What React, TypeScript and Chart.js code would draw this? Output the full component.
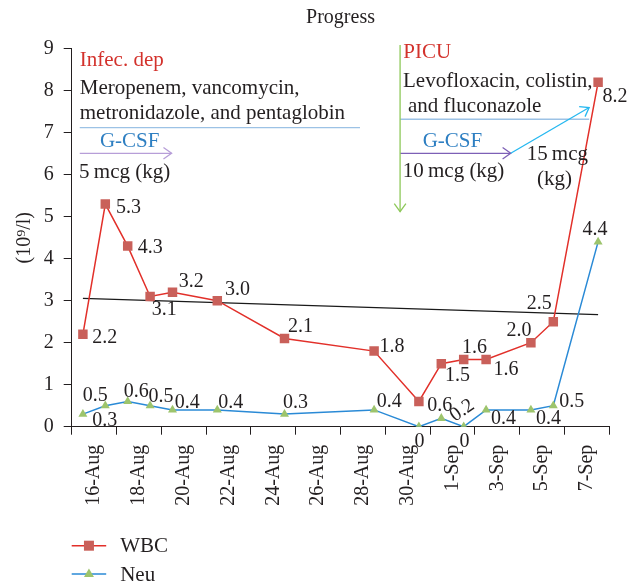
import React, { useEffect, useRef } from 'react';
import { Chart, registerables } from 'chart.js';

Chart.register(...registerables);

// ---------------- data ----------------
const chartTitle = 'Progress';
const yAxisTitle = '(10\u2079/l)';
const seriesLabels = ['WBC', 'Neu'];
const sampleDates = ['16-Aug', '17-Aug', '18-Aug', '19-Aug', '20-Aug', '22-Aug', '25-Aug', '29-Aug', '31-Aug', '1-Sep', '2-Sep', '3-Sep', '5-Sep', '6-Sep', '8-Sep'];
const wbcValues = [2.2, 5.3, 4.3, 3.1, 3.2, 3.0, 2.1, 1.8, 0.6, 1.5, 1.6, 1.6, 2.0, 2.5, 8.2];
const neuValues = [0.3, 0.5, 0.6, 0.5, 0.4, 0.4, 0.3, 0.4, 0, 0.2, 0, 0.4, 0.4, 0.5, 4.4];
const axisDateLabels = ['16-Aug', '18-Aug', '20-Aug', '22-Aug', '24-Aug', '26-Aug', '28-Aug', '30-Aug', '1-Sep', '3-Sep', '5-Sep', '7-Sep'];
const yMin = 0;
const yMax = 9;
const yStep = 1;

// ---------------- styling / layout ----------------
const FONT = "'Liberation Serif', 'Times New Roman', serif";
const INK = '#231f20';
const WBC_LINE = '#e2302a';
const WBC_MARK = '#c9605a';
const NEU_LINE = '#2a8ad6';
const NEU_MARK = '#9dc46c';
const RED_TXT = '#d3322c';
const BLUE_TXT = '#2e7fc2';

// label offsets in px relative to each point: [dx, dy, rotationDeg]
const wbcLabelOffsets: number[][] = [[9.4, 8.4], [10.7, 8.4], [10, 7], [1.7, 18.7], [6.3, -5], [7.7, -5.3], [3.4, -7], [5.3, 0.7], [8.4, 9.3], [3.7, 17], [-1.6, -6.7], [7.3, 15], [-24.3, -6.6], [-26.6, -12.4], [4.4, 20]];
const neuLabelOffsets: number[][] = [[9.4, 12], [-22.6, -4.3], [-4, -5], [-1.7, -3.3], [2.3, -2.3], [1, -2.3], [-1.6, -6.3], [2.7, -3.3], [-4.3, 20], [13.7, 3.7, -35], [-4.3, 20], [5, 14.3], [5, 14.3], [6, 1.7], [-15.6, -6.7]];

// annotation positions in data coordinates (day offset, value)
const annoTexts = [
  { t: 'Infec. dep', x: -0.14, y: 8.59, c: RED_TXT },
  { t: 'Meropenem, vancomycin,', x: -0.14, y: 7.91, c: INK },
  { t: 'metronidazole, and pentaglobin', x: -0.14, y: 7.32, c: INK },
  { t: 'G-CSF', x: 0.76, y: 6.65, c: BLUE_TXT },
  { t: '5\u2009mcg (kg)', x: -0.17, y: 5.93, c: INK },
  { t: 'PICU', x: 14.3, y: 8.77, c: RED_TXT },
  { t: 'Levofloxacin, colistin,', x: 14.29, y: 8.08, c: INK },
  { t: 'and fluconazole', x: 14.51, y: 7.49, c: INK },
  { t: 'G-CSF', x: 15.17, y: 6.65, c: BLUE_TXT },
  { t: '10\u2009mcg (kg)', x: 14.28, y: 5.95, c: INK },
  { t: '15\u2009mcg', x: 19.81, y: 6.35, c: INK },
  { t: '(kg)', x: 20.27, y: 5.75, c: INK },
];
const annoLines = [
  { a: [-0.14, 7.12], b: [12.37, 7.12], c: '#9cc2e5', arrow: false },
  { a: [14.16, 7.32], b: [22.6, 7.32], c: '#9cc2e5', arrow: false },
  { a: [-0.14, 6.51], b: [3.96, 6.51], c: '#b79ed8', arrow: true },
  { a: [14.16, 6.51], b: [19.1, 6.51], c: '#7d60b6', arrow: true },
  { a: [19.1, 6.51], b: [22.6, 7.6], c: '#25b8f0', arrow: true },
  { a: [14.16, 9.09], b: [14.16, 5.12], c: '#8ec85a', arrow: true },
];

const MONTHS: Record<string, number> = { Aug: 7, Sep: 8 };
const toUTC = (s: string) => {
  const [d, m] = s.split('-');
  return Date.UTC(2000, MONTHS[m], Number(d));
};
const origin = toUTC(sampleDates[0]);
const dayIndex = (s: string) => Math.round((toUTC(s) - origin) / 864e5);

const sampleDays = sampleDates.map(dayIndex);
const lastDay = sampleDays[sampleDays.length - 1];
const xMin = -0.5;
const xMax = lastDay + 0.5;
const labelPositions = axisDateLabels.map((l) => dayIndex(l) + 0.5);
const boundaryTicks = [...axisDateLabels.map((l) => dayIndex(l) - 0.5), xMax];

// linear trendline (least squares) of WBC over time
const n = sampleDays.length;
const mx = sampleDays.reduce((s, v) => s + v, 0) / n;
const my = wbcValues.reduce((s, v) => s + v, 0) / n;
let sxy = 0;
let sxx = 0;
for (let i = 0; i < n; i++) {
  sxy += (sampleDays[i] - mx) * (wbcValues[i] - my);
  sxx += (sampleDays[i] - mx) ** 2;
}
const slope = sxy / sxx;
const intercept = my - slope * mx;
const trendPoints = [sampleDays[0], lastDay].map((d) => ({ x: d, y: intercept + slope * d }));

const fmt = (v: number) => (v === 0 ? '0' : v.toFixed(1));

function drawArrowHead(ctx: CanvasRenderingContext2D, x1: number, y1: number, x2: number, y2: number) {
  const ang = Math.atan2(y2 - y1, x2 - x1);
  const len = 10;
  const spread = 0.62;
  ctx.beginPath();
  ctx.moveTo(x2 - len * Math.cos(ang - spread), y2 - len * Math.sin(ang - spread));
  ctx.lineTo(x2, y2);
  ctx.lineTo(x2 - len * Math.cos(ang + spread), y2 - len * Math.sin(ang + spread));
  ctx.stroke();
}

const overlayPlugin = {
  id: 'overlay',
  afterDatasetsDraw(chart: any) {
    const { ctx } = chart;
    const xs = chart.scales.x;
    const ys = chart.scales.y;
    const px = (v: number) => xs.getPixelForValue(v);
    const py = (v: number) => ys.getPixelForValue(v);
    ctx.save();

    // annotation lines & arrows
    ctx.lineWidth = 1.3;
    for (const l of annoLines) {
      const x1 = px(l.a[0]);
      const y1 = py(l.a[1]);
      const x2 = px(l.b[0]);
      const y2 = py(l.b[1]);
      ctx.strokeStyle = l.c;
      ctx.beginPath();
      ctx.moveTo(x1, y1);
      ctx.lineTo(x2, y2);
      ctx.stroke();
      if (l.arrow) drawArrowHead(ctx, x1, y1, x2, y2);
    }

    // annotation texts
    ctx.font = `21px ${FONT}`;
    ctx.textAlign = 'left';
    ctx.textBaseline = 'alphabetic';
    for (const t of annoTexts) {
      ctx.fillStyle = t.c;
      ctx.fillText(t.t, px(t.x), py(t.y));
    }

    // data labels
    ctx.font = `20px ${FONT}`;
    ctx.fillStyle = INK;
    const offsets = [wbcLabelOffsets, neuLabelOffsets];
    [0, 1].forEach((di) => {
      const meta = chart.getDatasetMeta(di);
      const vals = chart.data.datasets[di].data;
      meta.data.forEach((pt: any, i: number) => {
        const o = offsets[di][i] || [6, -6];
        const v = vals[i].y;
        ctx.save();
        ctx.translate(pt.x + o[0], pt.y + o[1]);
        if (o[2]) ctx.rotate((o[2] * Math.PI) / 180);
        ctx.fillText(fmt(v), 0, 0);
        ctx.restore();
      });
    });

    // legend
    const lx1 = chart.chartArea.left;
    const lx2 = lx1 + 34.5;
    const legendRows = [
      { y: 545.7, line: WBC_LINE, mark: WBC_MARK, style: 'rect' },
      { y: 574, line: NEU_LINE, mark: NEU_MARK, style: 'triangle' },
    ];
    legendRows.forEach((r, i) => {
      ctx.strokeStyle = r.line;
      ctx.lineWidth = 1.5;
      ctx.beginPath();
      ctx.moveTo(lx1, r.y);
      ctx.lineTo(lx2, r.y);
      ctx.stroke();
      const cx = (lx1 + lx2) / 2;
      ctx.fillStyle = r.mark;
      ctx.beginPath();
      if (r.style === 'rect') {
        ctx.rect(cx - 5, r.y - 5, 10, 10);
      } else {
        ctx.moveTo(cx, r.y - 5.5);
        ctx.lineTo(cx + 5, r.y + 3);
        ctx.lineTo(cx - 5, r.y + 3);
        ctx.closePath();
      }
      ctx.fill();
      ctx.fillStyle = INK;
      ctx.font = `21px ${FONT}`;
      ctx.fillText(seriesLabels[i], lx1 + 48.5, r.y + 6.5);
    });

    ctx.restore();
  },
};

export default function App() {
  const canvasRef = useRef<HTMLCanvasElement | null>(null);

  useEffect(() => {
    document.body.style.margin = '0';
    const canvas = canvasRef.current;
    if (!canvas) return;
    const chart = new Chart(canvas, {
      type: 'line',
      data: {
        datasets: [
          {
            label: seriesLabels[0],
            data: sampleDays.map((d, i) => ({ x: d, y: wbcValues[i] })),
            borderColor: WBC_LINE,
            borderWidth: 1.5,
            pointStyle: 'rect',
            pointRadius: 6.7,
            pointBackgroundColor: WBC_MARK,
            pointBorderWidth: 0,
            tension: 0,
          },
          {
            label: seriesLabels[1],
            data: sampleDays.map((d, i) => ({ x: d, y: neuValues[i] })),
            borderColor: NEU_LINE,
            borderWidth: 1.5,
            pointStyle: 'triangle',
            pointRadius: 5.2,
            pointBackgroundColor: NEU_MARK,
            pointBorderWidth: 0,
            tension: 0,
          },
          {
            label: 'Trend',
            data: trendPoints,
            borderColor: '#1a1a1a',
            borderWidth: 1.2,
            pointRadius: 0,
            tension: 0,
          },
        ],
      },
      options: {
        responsive: true,
        maintainAspectRatio: false,
        devicePixelRatio: 1,
        animation: false,
        events: [],
        layout: { padding: { left: 0, right: 30.7, top: 0, bottom: 0 } },
        plugins: {
          legend: { display: false },
          tooltip: { enabled: false },
          title: {
            display: true,
            text: chartTitle,
            fullSize: false,
            color: INK,
            font: { family: FONT, size: 20, weight: 'normal' },
            padding: { top: 6, bottom: 18.7 },
          },
        },
        scales: {
          x: {
            type: 'linear',
            min: xMin,
            max: xMax,
            afterBuildTicks: (scale: any) => {
              const all = [...boundaryTicks, ...labelPositions].sort((a, b) => a - b);
              scale.ticks = all.map((v) => ({ value: v }));
            },
            afterFit: (scale: any) => {
              scale.height = 154.3;
              scale.paddingLeft = 0;
              scale.paddingRight = 0;
            },
            ticks: {
              autoSkip: false,
              minRotation: 90,
              maxRotation: 90,
              padding: 10,
              color: INK,
              font: { family: FONT, size: 20 },
              callback: (v: any) => {
                const k = labelPositions.findIndex((p) => Math.abs(p - Number(v)) < 1e-6);
                return k >= 0 ? axisDateLabels[k] : '';
              },
            },
            grid: {
              display: true,
              drawOnChartArea: false,
              drawTicks: true,
              tickLength: 8,
              tickWidth: 1,
              tickColor: (ctx: any) => {
                const v = ctx.tick ? ctx.tick.value : 0;
                return labelPositions.some((p) => Math.abs(p - v) < 1e-6) ? 'rgba(0,0,0,0)' : INK;
              },
            },
            border: { display: true, color: INK, width: 1 },
          },
          y: {
            min: yMin,
            max: yMax,
            afterFit: (scale: any) => {
              scale.width = 71.7;
              scale.paddingTop = 0;
              scale.paddingBottom = 0;
            },
            ticks: {
              stepSize: yStep,
              padding: 10,
              color: INK,
              font: { family: FONT, size: 20 },
            },
            title: {
              display: true,
              text: yAxisTitle,
              color: INK,
              font: { family: FONT, size: 20 },
              padding: { top: 13, bottom: 0 },
            },
            grid: {
              display: true,
              drawOnChartArea: false,
              drawTicks: true,
              tickLength: 8,
              tickWidth: 1,
              tickColor: INK,
            },
            border: { display: true, color: INK, width: 1 },
          },
        },
      },
      plugins: [overlayPlugin],
    });
    return () => chart.destroy();
  }, []);

  return (
    <div style={{ width: 640, height: 581, position: 'relative' }}>
      <canvas ref={canvasRef} />
    </div>
  );
}
